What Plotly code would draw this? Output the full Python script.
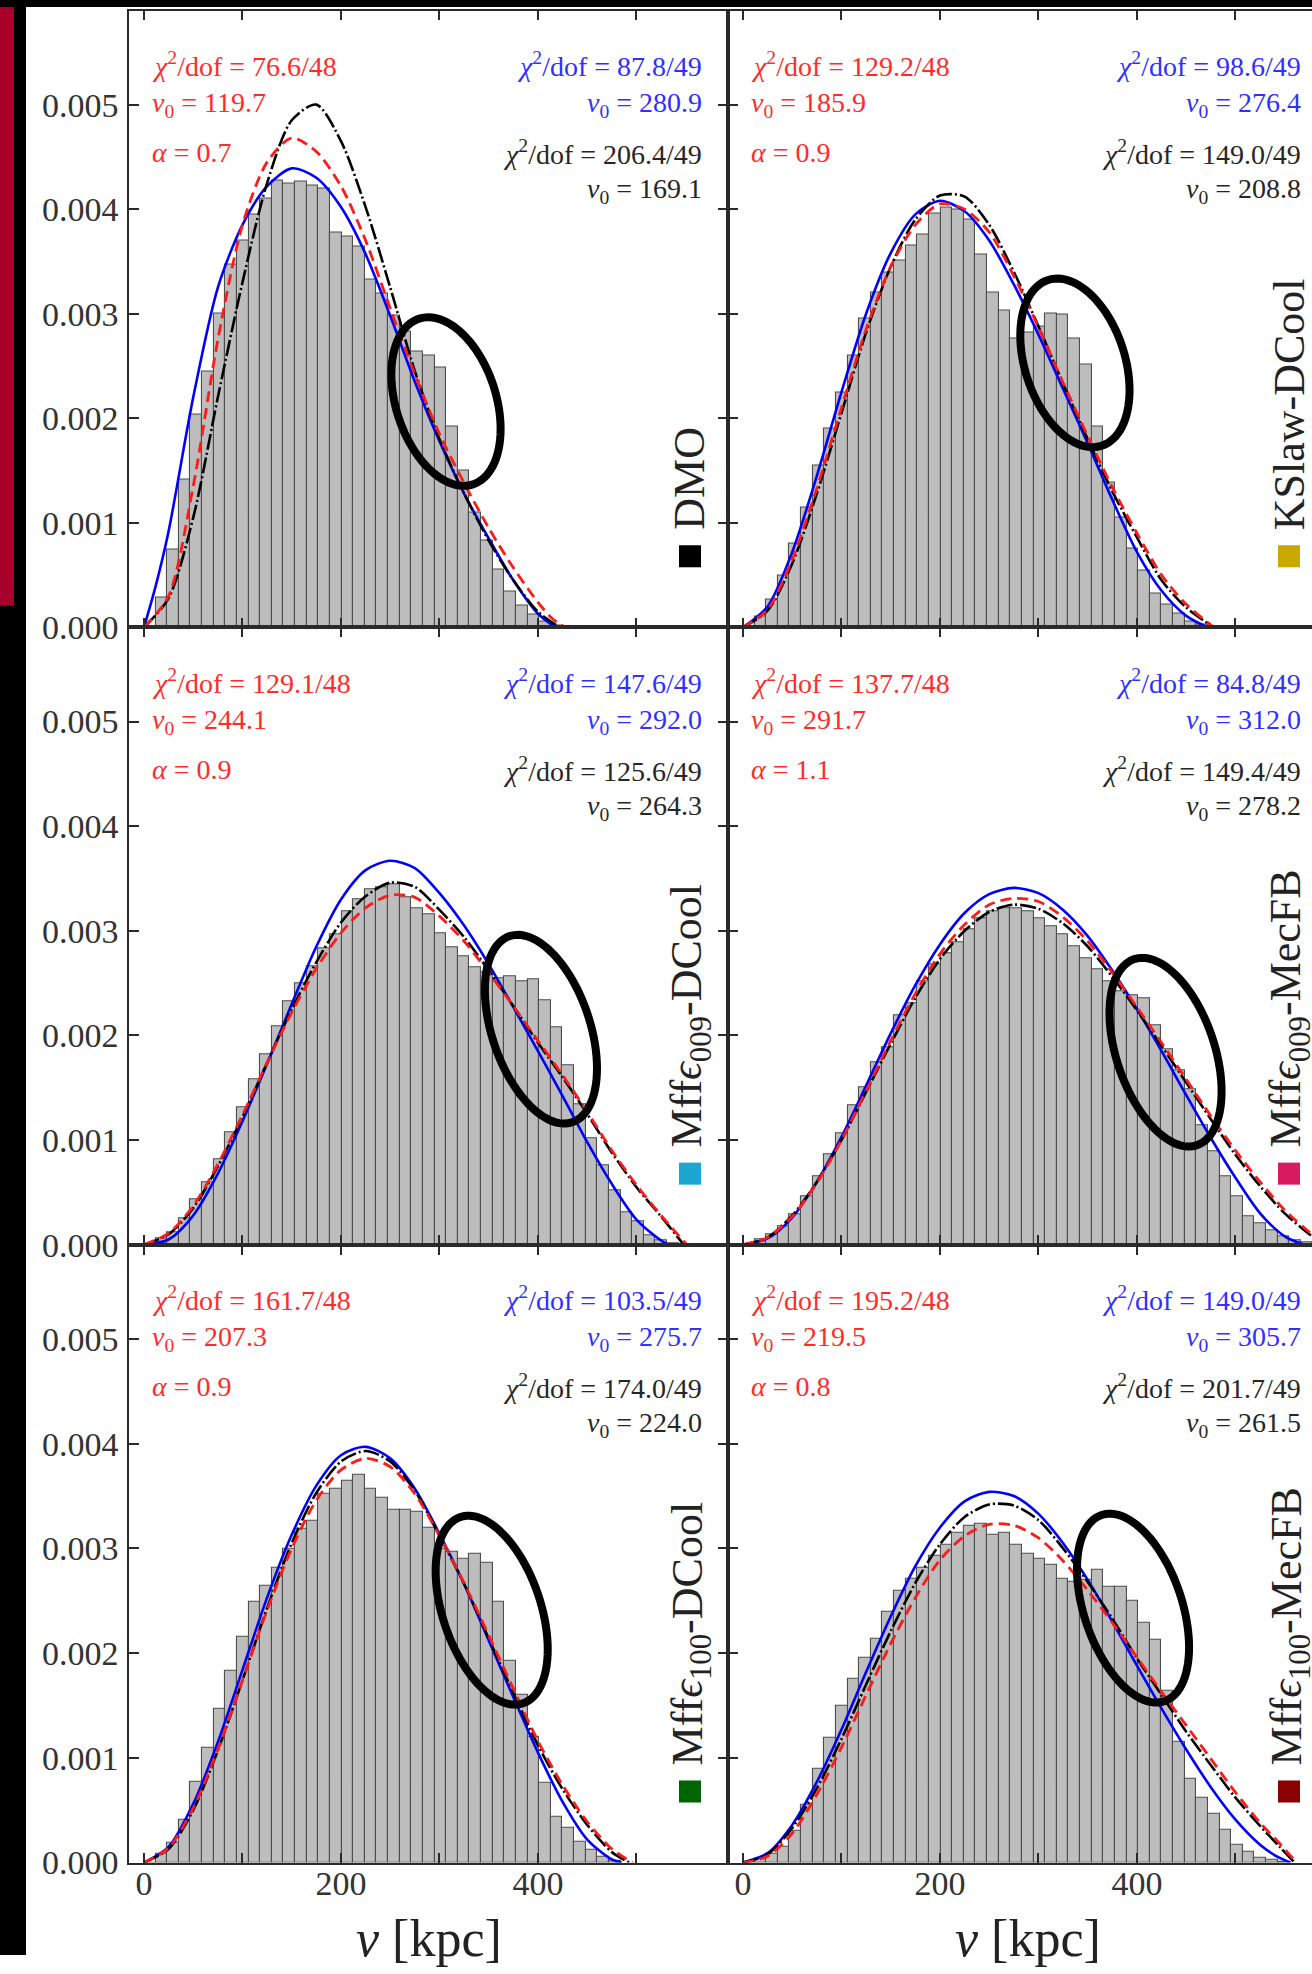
import math
import plotly.graph_objects as go

# ---------------- data (densities in units of 1e-3) ----------------
BIN_WIDTH = 11.8          # bin k covers [11.8k, 11.8(k+1)]
DENS_UNIT = 1e-3

HIST_DMO = [0, 0.29, 0.74, 1.41, 2.04, 2.45, 3.00, 3.47, 3.70, 3.95, 4.10, 4.27, 4.25, 4.26, 4.23,
            4.20, 3.78, 3.74, 3.64, 3.33, 3.19, 2.98, 2.83, 2.64, 2.60, 2.49, 1.92, 1.50, 1.10, 0.83,
            0.55, 0.34, 0.21, 0.12, 0.06, 0.02]
HIST_KSLAW = [0, 0.10, 0.27, 0.50, 0.80, 1.15, 1.55, 1.90, 2.25, 2.60, 2.95, 3.20, 3.39, 3.51, 3.65,
              3.76, 3.96, 4.02, 4.00, 3.90, 3.57, 3.20, 3.03, 2.76, 2.82, 2.88, 3.00, 2.99, 2.76, 2.51,
              1.92, 1.39, 1.05, 0.75, 0.54, 0.32, 0.22, 0.13, 0.06, 0.03, 0.01]
HIST_M009_DC = [0, 0.06, 0.12, 0.25, 0.43, 0.60, 0.82, 1.07, 1.31, 1.58, 1.82, 2.09, 2.33, 2.50, 2.66,
                2.83, 2.97, 3.19, 3.30, 3.40, 3.42, 3.44, 3.32, 3.21, 3.16, 2.98, 2.84, 2.76, 2.65, 2.60,
                2.55, 2.56, 2.52, 2.54, 2.34, 2.08, 1.71, 1.34, 1.02, 0.76, 0.52, 0.31, 0.22, 0.09, 0.04,
                0.01]
HIST_M009_MF = [0, 0.05, 0.10, 0.18, 0.29, 0.46, 0.65, 0.86, 1.06, 1.33, 1.50, 1.74, 1.89, 2.19, 2.31,
                2.52, 2.68, 2.78, 2.89, 3.01, 3.12, 3.19, 3.21, 3.21, 3.19, 3.12, 3.04, 2.97, 2.85, 2.74,
                2.63, 2.52, 2.42, 2.38, 2.35, 2.10, 1.87, 1.67, 1.48, 1.14, 0.89, 0.65, 0.46, 0.27, 0.20,
                0.14, 0.08, 0.04, 0.02]
HIST_M100_DC = [0, 0.08, 0.19, 0.41, 0.77, 1.10, 1.47, 1.83, 2.16, 2.49, 2.64, 2.82, 3.00, 3.19, 3.26,
                3.52, 3.57, 3.65, 3.70, 3.57, 3.48, 3.37, 3.37, 3.35, 3.20, 3.00, 2.97, 2.90, 2.95, 2.86,
                2.49, 1.93, 1.60, 1.20, 0.76, 0.44, 0.33, 0.20, 0.12, 0.06, 0.02]
HIST_M100_MF = [0, 0.04, 0.08, 0.15, 0.30, 0.55, 0.90, 1.19, 1.50, 1.76, 1.96, 2.14, 2.40, 2.60, 2.71,
                2.82, 2.93, 3.04, 3.15, 3.22, 3.24, 3.13, 3.15, 3.04, 2.95, 2.90, 2.84, 2.71, 2.68, 2.70,
                2.80, 2.63, 2.63, 2.50, 2.29, 2.13, 1.64, 1.15, 0.80, 0.62, 0.47, 0.31, 0.17, 0.10, 0.05,
                0.03, 0.01]

# fitted curves: speed grid and density (1e-3)
DMO_V_BLACK = [0, 25, 50, 75, 100, 125, 150, 175, 200, 225, 250, 275, 300, 325, 350, 375, 400, 422]
DMO_BLACK = [0, 0.28, 1.05, 2.2, 3.3, 4.25, 4.85, 5.0, 4.65, 4.02, 3.25, 2.45, 1.8, 1.28, 0.83, 0.45, 0.15, 0]
DMO_V_RED = [0, 25, 50, 75, 100, 125, 150, 175, 200, 225, 250, 275, 300, 325, 350, 375, 400, 415, 428]
DMO_RED = [0, 0.3, 1.35, 2.75, 3.85, 4.45, 4.68, 4.55, 4.22, 3.7, 3.05, 2.42, 1.85, 1.38, 0.95, 0.57, 0.24, 0.08, 0]
DMO_V_BLUE = [0, 12, 25, 50, 75, 100, 125, 150, 175, 200, 225, 250, 275, 300, 325, 350, 375, 400, 418]
DMO_BLUE = [0, 0.4, 0.92, 2.2, 3.25, 3.85, 4.22, 4.39, 4.3, 4.02, 3.57, 2.98, 2.35, 1.78, 1.28, 0.85, 0.45, 0.13, 0]

KS_V_BLACK = [0, 25, 50, 75, 100, 125, 150, 175, 200, 225, 250, 275, 300, 325, 350, 375, 400, 425, 450, 478]
KS_BLACK = [0, 0.16, 0.61, 1.28, 2.05, 2.82, 3.45, 3.9, 4.13, 4.12, 3.85, 3.40, 2.88, 2.33, 1.80, 1.3, 0.86, 0.45, 0.19, 0]
KS_V_RED = [0, 25, 50, 75, 100, 125, 150, 175, 200, 225, 250, 275, 300, 325, 350, 375, 400, 425, 450, 478]
KS_RED = [0, 0.17, 0.65, 1.33, 2.1, 2.85, 3.45, 3.85, 4.05, 4.0, 3.78, 3.36, 2.87, 2.34, 1.83, 1.34, 0.9, 0.5, 0.22, 0]
KS_V_BLUE = [0, 25, 50, 75, 100, 125, 150, 175, 200, 225, 250, 275, 300, 325, 350, 375, 400, 425, 450, 472]
KS_BLUE = [0, 0.2, 0.72, 1.45, 2.25, 3.0, 3.58, 3.95, 4.08, 3.98, 3.7, 3.28, 2.8, 2.28, 1.76, 1.22, 0.72, 0.35, 0.11, 0]

M9D_V_BLACK = [0, 25, 50, 75, 100, 125, 150, 175, 200, 225, 250, 275, 300, 325, 350, 375, 400, 425, 450, 475, 500, 525, 548]
M9D_BLACK = [0, 0.1, 0.35, 0.75, 1.22, 1.74, 2.25, 2.7, 3.08, 3.33, 3.46, 3.42, 3.2, 2.94, 2.62, 2.28, 1.93, 1.6, 1.25, 0.88, 0.55, 0.27, 0]
M9D_V_RED = [0, 25, 50, 75, 100, 125, 150, 175, 200, 225, 250, 275, 300, 325, 350, 375, 400, 425, 450, 475, 500, 525, 551]
M9D_RED = [0, 0.11, 0.37, 0.77, 1.24, 1.74, 2.22, 2.64, 2.98, 3.22, 3.34, 3.32, 3.14, 2.9, 2.6, 2.28, 1.95, 1.62, 1.27, 0.9, 0.57, 0.28, 0]
M9D_V_BLUE = [0, 25, 50, 75, 100, 125, 150, 175, 200, 225, 250, 275, 300, 325, 350, 375, 400, 425, 450, 475, 500, 525, 532]
M9D_BLUE = [0, 0.05, 0.28, 0.68, 1.18, 1.73, 2.3, 2.85, 3.3, 3.58, 3.67, 3.6, 3.36, 3.05, 2.68, 2.27, 1.85, 1.42, 0.98, 0.58, 0.24, 0.04, 0]

M9M_V_BLACK = [0, 25, 50, 75, 100, 125, 150, 175, 200, 225, 250, 275, 300, 325, 350, 375, 400, 425, 450, 475, 500, 525, 550, 575, 590]
M9M_BLACK = [0, 0.07, 0.28, 0.6, 1.0, 1.46, 1.92, 2.36, 2.73, 3.0, 3.18, 3.25, 3.21, 3.07, 2.85, 2.56, 2.24, 1.9, 1.55, 1.2, 0.86, 0.56, 0.3, 0.1, 0]
M9M_V_RED = [0, 25, 50, 75, 100, 125, 150, 175, 200, 225, 250, 275, 300, 325, 350, 375, 400, 425, 450, 475, 500, 525, 550, 575, 592]
M9M_RED = [0, 0.07, 0.27, 0.59, 1.0, 1.47, 1.95, 2.4, 2.78, 3.06, 3.25, 3.31, 3.28, 3.13, 2.9, 2.6, 2.27, 1.93, 1.58, 1.23, 0.9, 0.6, 0.33, 0.12, 0]
M9M_V_BLUE = [0, 25, 50, 75, 100, 125, 150, 175, 200, 225, 250, 275, 300, 325, 350, 375, 400, 425, 450, 475, 500, 525, 550, 570]
M9M_BLUE = [0, 0.06, 0.26, 0.6, 1.03, 1.52, 2.02, 2.48, 2.87, 3.17, 3.35, 3.41, 3.36, 3.2, 2.95, 2.62, 2.25, 1.85, 1.43, 1.02, 0.64, 0.3, 0.08, 0]

M1D_V_BLACK = [0, 25, 50, 75, 100, 125, 150, 175, 200, 225, 250, 275, 300, 325, 350, 375, 400, 425, 450, 475, 493]
M1D_BLACK = [0, 0.13, 0.5, 1.07, 1.74, 2.43, 3.05, 3.53, 3.83, 3.93, 3.83, 3.55, 3.12, 2.66, 2.14, 1.62, 1.12, 0.7, 0.36, 0.1, 0]
M1D_V_RED = [0, 25, 50, 75, 100, 125, 150, 175, 200, 225, 250, 275, 300, 325, 350, 375, 400, 425, 450, 475, 496]
M1D_RED = [0, 0.14, 0.52, 1.08, 1.74, 2.41, 3.0, 3.46, 3.75, 3.86, 3.78, 3.52, 3.12, 2.67, 2.17, 1.66, 1.16, 0.74, 0.39, 0.13, 0]
M1D_V_BLUE = [0, 25, 50, 75, 100, 125, 150, 175, 200, 225, 250, 275, 300, 325, 350, 375, 400, 425, 450, 475, 485]
M1D_BLUE = [0, 0.15, 0.56, 1.15, 1.84, 2.53, 3.13, 3.6, 3.89, 3.97, 3.86, 3.57, 3.14, 2.66, 2.12, 1.58, 1.05, 0.58, 0.22, 0.03, 0]

M1M_V_BLACK = [0, 25, 50, 75, 100, 125, 150, 175, 200, 225, 250, 275, 300, 325, 350, 375, 400, 425, 450, 475, 500, 525, 545, 560]
M1M_BLACK = [0, 0.08, 0.33, 0.71, 1.18, 1.7, 2.21, 2.67, 3.04, 3.3, 3.42, 3.41, 3.27, 3.0, 2.68, 2.33, 1.95, 1.6, 1.25, 0.93, 0.62, 0.35, 0.15, 0]
M1M_V_RED = [0, 25, 50, 75, 100, 125, 150, 175, 200, 225, 250, 275, 300, 325, 350, 375, 400, 425, 450, 475, 500, 525, 545, 562]
M1M_RED = [0, 0.06, 0.28, 0.65, 1.1, 1.6, 2.09, 2.53, 2.89, 3.12, 3.23, 3.22, 3.1, 2.88, 2.6, 2.29, 1.96, 1.63, 1.31, 0.99, 0.67, 0.38, 0.18, 0]
M1M_V_BLUE = [0, 25, 50, 75, 100, 125, 150, 175, 200, 225, 250, 275, 300, 325, 350, 375, 400, 425, 450, 475, 500, 525, 540, 556]
M1M_BLUE = [0, 0.09, 0.36, 0.77, 1.27, 1.82, 2.35, 2.83, 3.2, 3.45, 3.54, 3.5, 3.33, 3.05, 2.7, 2.3, 1.88, 1.47, 1.08, 0.72, 0.41, 0.17, 0.07, 0]

PANEL_NAMES = ["DMO", "KSlaw-DCool",
               "Mff<i>ϵ</i><sub>009</sub>-DCool", "Mff<i>ϵ</i><sub>009</sub>-MecFB",
               "Mff<i>ϵ</i><sub>100</sub>-DCool", "Mff<i>ϵ</i><sub>100</sub>-MecFB"]
PANEL_COLORS = ["#000000", "#c9a800", "#1ca7d0", "#d81b60", "#006400", "#8b0000"]

RED_CHI = ["76.6/48", "129.2/48", "129.1/48", "137.7/48", "161.7/48", "195.2/48"]
RED_V0 = ["119.7", "185.9", "244.1", "291.7", "207.3", "219.5"]
RED_ALPHA = ["0.7", "0.9", "0.9", "1.1", "0.9", "0.8"]
BLUE_CHI = ["87.8/49", "98.6/49", "147.6/49", "84.8/49", "103.5/49", "149.0/49"]
BLUE_V0 = ["280.9", "276.4", "292.0", "312.0", "275.7", "305.7"]
BLACK_CHI = ["206.4/49", "149.0/49", "125.6/49", "149.4/49", "174.0/49", "201.7/49"]
BLACK_V0 = ["169.1", "208.8", "264.3", "278.2", "224.0", "261.5"]

# highlighted regions: centre (v, density 1e-3)
ELLIPSE_CENTRES = [(306.6, 2.16), (337.0, 2.53), (403.0, 2.06), (429.0, 1.84), (353.0, 2.41), (396.0, 2.43)]

Y_TICKS = [0, 0.001, 0.002, 0.003, 0.004, 0.005]
Y_TICK_TEXT = ["0.000", "0.001", "0.002", "0.003", "0.004", "0.005"]
X_TICKS = [0, 200, 400]
X_TICK_TEXT = ["0", "200", "400"]
X_MINOR_TICKS = [100, 300, 500]

HISTS = [HIST_DMO, HIST_KSLAW, HIST_M009_DC, HIST_M009_MF, HIST_M100_DC, HIST_M100_MF]
CURVES = [
    ((DMO_V_BLACK, DMO_BLACK), (DMO_V_RED, DMO_RED), (DMO_V_BLUE, DMO_BLUE)),
    ((KS_V_BLACK, KS_BLACK), (KS_V_RED, KS_RED), (KS_V_BLUE, KS_BLUE)),
    ((M9D_V_BLACK, M9D_BLACK), (M9D_V_RED, M9D_RED), (M9D_V_BLUE, M9D_BLUE)),
    ((M9M_V_BLACK, M9M_BLACK), (M9M_V_RED, M9M_RED), (M9M_V_BLUE, M9M_BLUE)),
    ((M1D_V_BLACK, M1D_BLACK), (M1D_V_RED, M1D_RED), (M1D_V_BLUE, M1D_BLUE)),
    ((M1M_V_BLACK, M1M_BLACK), (M1M_V_RED, M1M_RED), (M1M_V_BLUE, M1M_BLUE)),
]

# ---------------- layout geometry (pixels) ----------------
W, H = 1312, 1974
VFIX = 0.989                          # observed vertical compression of the rendered page
COL_X = [(129, 728), (728, 1312)]
COL_RIGHT_TRUE = [728, 1327]         # right column panel is cropped by the image edge
ROW_Y = [(10.5, 626.5), (626.5, 1243), (1243, 1860)]
XRANGES = [[-15.2, 592.9], [-15.2, 577.7]]
YRANGE = [0, 0.0059]
PX_PER_V = 0.985
PX_PER_DENS = 104.4 / 0.001

FONT = "Liberation Serif, Times New Roman, DejaVu Serif, serif"
RED_TXT = "#ff2b2b"
BLUE_TXT = "#2f2fff"
BLACK_TXT = "#262626"
AX_COL = "#2a2a2a"


def px(xp):
    return xp / W


def py(yp):
    return 1 - (yp / VFIX) / H


fig = go.Figure()
annotations = []
shapes = []

for i in range(6):
    r, c = divmod(i, 2)
    sfx = "" if i == 0 else str(i + 1)
    xref, yref = "x" + sfx, "y" + sfx
    x0, x1 = COL_X[c]
    y0, y1 = ROW_Y[r]

    hist = HISTS[i]
    fig.add_trace(go.Bar(
        x=[BIN_WIDTH * (k + 0.5) for k in range(len(hist))],
        y=[h * DENS_UNIT for h in hist],
        width=BIN_WIDTH,
        marker=dict(color="#bdbdbd", line=dict(color="#4d4d4d", width=1.1)),
        xaxis=xref, yaxis=yref, showlegend=False, hoverinfo="skip"))

    (bv, bd), (rv, rd), (uv, ud) = CURVES[i]
    fig.add_trace(go.Scatter(x=uv, y=[d * DENS_UNIT for d in ud], mode="lines",
                             line=dict(color="#0000ff", width=2.6, shape="spline", smoothing=0.8),
                             xaxis=xref, yaxis=yref, showlegend=False, hoverinfo="skip"))
    fig.add_trace(go.Scatter(x=bv, y=[d * DENS_UNIT for d in bd], mode="lines",
                             line=dict(color="#000000", width=2.6, shape="spline", smoothing=0.8,
                                       dash="16px,3px,2px,3px"),
                             xaxis=xref, yaxis=yref, showlegend=False, hoverinfo="skip"))
    fig.add_trace(go.Scatter(x=rv, y=[d * DENS_UNIT for d in rd], mode="lines",
                             line=dict(color="#ff1a1a", width=2.8, shape="spline", smoothing=0.8,
                                       dash="11px,6px"),
                             xaxis=xref, yaxis=yref, showlegend=False, hoverinfo="skip"))

    xdom = [px(x0), px(x1)]
    ydom = [py(y1), py(y0)]
    bottom_row = (r == 2)
    left_col = (c == 0)
    fig.update_layout(**{
        "xaxis" + sfx: dict(domain=xdom, range=XRANGES[c], anchor=yref,
                            tickvals=X_TICKS, ticktext=X_TICK_TEXT,
                            minor=dict(tickvals=X_MINOR_TICKS, ticks="inside", ticklen=10,
                                       tickwidth=1.5, tickcolor=AX_COL, showgrid=False),
                            showticklabels=bottom_row, ticks="inside", ticklen=10, tickwidth=1.5,
                            tickcolor=AX_COL, showline=True, linecolor=AX_COL, linewidth=1.6,
                            mirror="ticks", showgrid=False, zeroline=False,
                            tickfont=dict(family=FONT, size=34, color="#333"),
                            ticklabelstandoff=-10),
        "yaxis" + sfx: dict(domain=ydom, range=YRANGE, anchor=xref,
                            tickvals=Y_TICKS, ticktext=Y_TICK_TEXT,
                            showticklabels=left_col, ticks="inside", ticklen=10, tickwidth=1.5,
                            tickcolor=AX_COL, showline=True, linecolor=AX_COL, linewidth=1.6,
                            mirror="ticks" if left_col else False, showgrid=False, zeroline=False,
                            tickfont=dict(family=FONT, size=34, color="#333"),
                            ticklabelstandoff=2),
    })

    # fit annotations
    left_x = x0 + 21
    right_x = min(COL_RIGHT_TRUE[c] - 24, W - 7)
    rows_red = [f"<i>χ</i><sup>2</sup>/dof = {RED_CHI[i]}",
                f"<i>v</i><sub>0</sub> = {RED_V0[i]}",
                f"<i>α</i> = {RED_ALPHA[i]}"]
    for txt, dy in zip(rows_red, [54, 93.5, 141.5]):
        annotations.append(dict(x=px(left_x), y=py(y0 + dy), xref="paper", yref="paper",
                                text=txt, showarrow=False, xanchor="left", yanchor="middle",
                                font=dict(family=FONT, size=28, color=RED_TXT)))
    rows_right = [(f"<i>χ</i><sup>2</sup>/dof = {BLUE_CHI[i]}", 54, BLUE_TXT),
                  (f"<i>v</i><sub>0</sub> = {BLUE_V0[i]}", 93.5, BLUE_TXT),
                  (f"<i>χ</i><sup>2</sup>/dof = {BLACK_CHI[i]}", 141.5, BLACK_TXT),
                  (f"<i>v</i><sub>0</sub> = {BLACK_V0[i]}", 179.5, BLACK_TXT)]
    for txt, dy, col in rows_right:
        annotations.append(dict(x=px(right_x), y=py(y0 + dy), xref="paper", yref="paper",
                                text=txt, showarrow=False, xanchor="right", yanchor="middle",
                                font=dict(family=FONT, size=28, color=col)))

    # simulation label (rotated) and colour square
    sq_cx = COL_RIGHT_TRUE[c] - 38
    sq_cy = y1 - 71
    sq = 22
    shapes.append(dict(type="rect", xref="paper", yref="paper",
                       x0=px(sq_cx - sq / 2), x1=px(sq_cx + sq / 2),
                       y0=py(sq_cy + sq / 2), y1=py(sq_cy - sq / 2),
                       fillcolor=PANEL_COLORS[i], line=dict(width=0), layer="above"))
    annotations.append(dict(x=px(sq_cx), y=py(y1 - 95), xref="paper", yref="paper",
                            text=PANEL_NAMES[i], textangle=-90, showarrow=False,
                            xanchor="center", yanchor="bottom",
                            font=dict(family=FONT, size=44, color="#222")))

    # ellipse highlighting the bump
    cv, cd = ELLIPSE_CENTRES[i]
    a, b, th = (87.0, 50.0, 18.0) if r == 0 else (98.0, 49.0, 18.7)
    thr = math.radians(th)
    ux, uy = -math.sin(thr), math.cos(thr)
    wx, wy = math.cos(thr), math.sin(thr)
    pts = []
    for j in range(97):
        t = 2 * math.pi * j / 96
        dxp = a * math.cos(t) * ux + b * math.sin(t) * wx
        dyp = a * math.cos(t) * uy + b * math.sin(t) * wy
        pts.append((cv + dxp / PX_PER_V, cd * DENS_UNIT + dyp / PX_PER_DENS))
    path = "M " + " L ".join(f"{p[0]:.3f},{p[1]:.7f}" for p in pts) + " Z"
    shapes.append(dict(type="path", path=path, xref=xref, yref=yref,
                       line=dict(color="#000000", width=8), layer="above"))

# axis titles
for cx in [(COL_X[0][0] + COL_RIGHT_TRUE[0]) / 2, (COL_X[1][0] + COL_RIGHT_TRUE[1]) / 2]:
    annotations.append(dict(x=px(cx), y=py(1936), xref="paper", yref="paper",
                            text="<i>v</i> [kpc]", showarrow=False, xanchor="center", yanchor="middle",
                            font=dict(family=FONT, size=52, color="#222")))

# screenshot frame artifacts (top band, left stripes)
shapes.append(dict(type="rect", xref="paper", yref="paper", x0=0, x1=1, y0=py(7), y1=1,
                   fillcolor="#000000", line=dict(width=0), layer="above"))
shapes.append(dict(type="rect", xref="paper", yref="paper", x0=0, x1=px(26), y0=0, y1=1,
                   fillcolor="#000000", line=dict(width=0), layer="above"))
shapes.append(dict(type="rect", xref="paper", yref="paper", x0=0, x1=px(14), y0=py(605), y1=py(7),
                   fillcolor="#a8002a", line=dict(width=0), layer="above"))

fig.update_layout(width=W, height=H, margin=dict(l=0, r=0, t=0, b=0),
                  paper_bgcolor="white", plot_bgcolor="white",
                  showlegend=False, bargap=0, annotations=annotations, shapes=shapes,
                  font=dict(family=FONT))

fig.write_html("out.html")
